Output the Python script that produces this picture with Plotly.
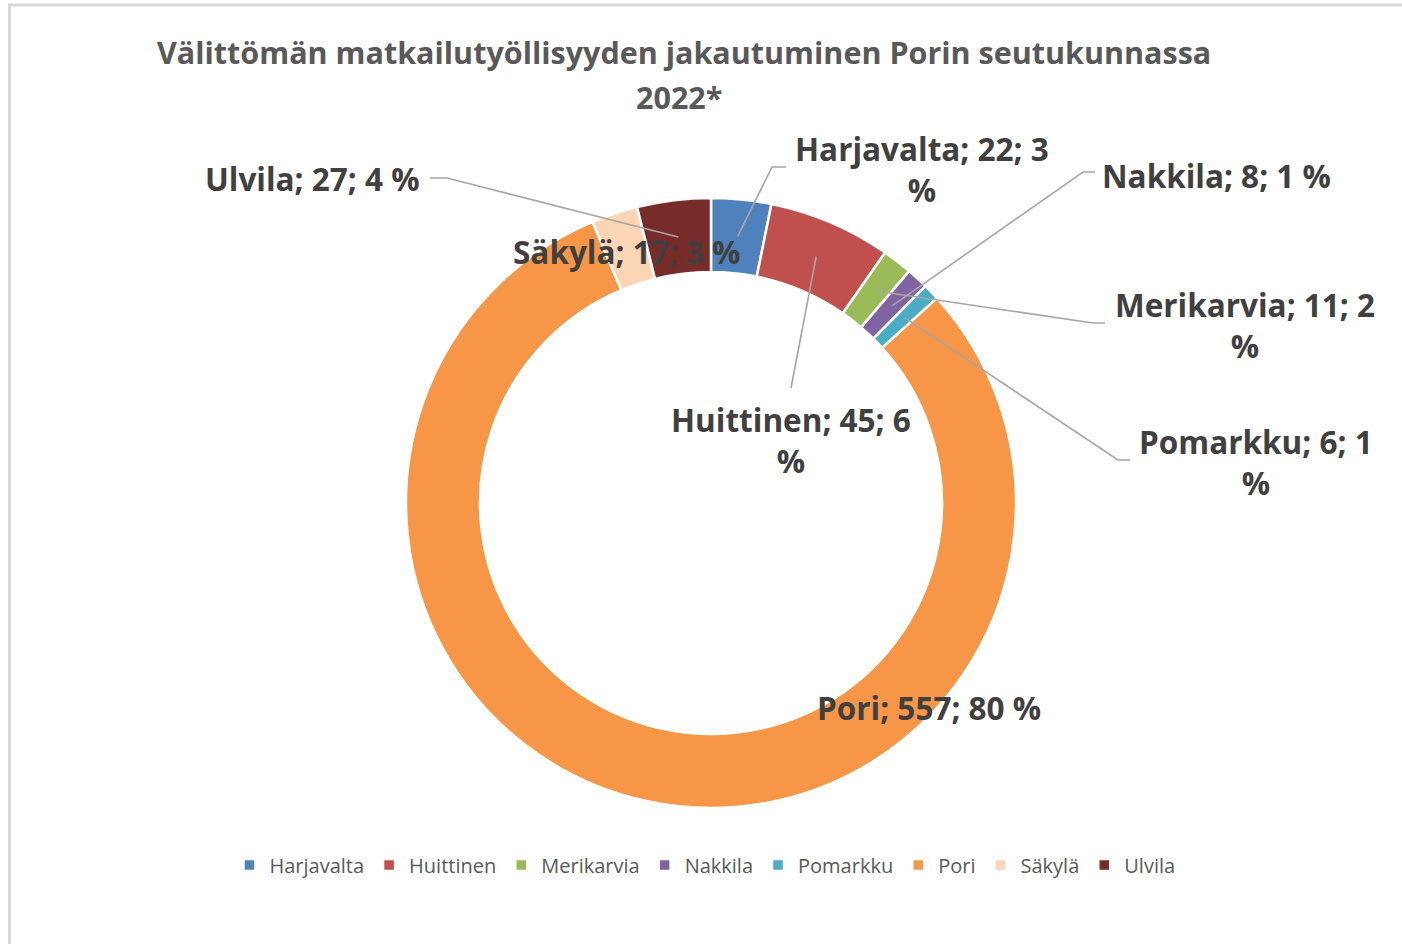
import math
import plotly.graph_objects as go

# data
municipalities = ["Harjavalta", "Huittinen", "Merikarvia", "Nakkila",
                  "Pomarkku", "Pori", "Säkylä", "Ulvila"]
jobs = [22, 45, 11, 8, 6, 557, 17, 27]
shares = [3, 6, 2, 1, 1, 80, 3, 4]
colors = ["#4F81BD", "#C0504D", "#9BBB59", "#8064A2",
          "#4BACC6", "#F79646", "#FCD5B5", "#772C2A"]

W, H = 1402, 944
cx, cy, r_out, r_in = 711, 503, 305, 231

# label layout (pixel positions), wrapped the way Excel wraps them
label_pos = {
    "Harjavalta": (922, 169, "Harjavalta; 22; 3<br>%"),
    "Huittinen": (791, 440, "Huittinen; 45; 6<br>%"),
    "Merikarvia": (1245, 325, "Merikarvia; 11; 2<br>%"),
    "Nakkila": (1216, 175, "Nakkila; 8; 1 %"),
    "Pomarkku": (1256, 462, "Pomarkku; 6; 1<br>%"),
    "Pori": (929, 707, "Pori; 557; 80 %"),
    "Säkylä": (626, 251, "Säkylä; 17; 3 %"),
    "Ulvila": (312, 178, "Ulvila; 27; 4 %"),
}
# leader line elbow and end points next to labels
leaders = {
    "Harjavalta": [(772, 167), (786, 167)],
    "Huittinen": [(791, 388)],
    "Merikarvia": [(1093, 323), (1105, 323)],
    "Nakkila": [(1083, 172), (1095, 172)],
    "Pomarkku": [(1118, 460), (1130, 460)],
    "Ulvila": [(447, 178), (430, 178)],
}

fig = go.Figure()

fig.add_trace(go.Pie(
    labels=municipalities, values=jobs, sort=False, direction="clockwise",
    rotation=0, hole=r_in / r_out, textinfo="none", hoverinfo="label+value+percent",
    marker=dict(colors=colors, line=dict(color="white", width=2.5)),
    domain=dict(x=[(cx - r_out) / W, (cx + r_out) / W],
                y=[1 - (cy + r_out) / H, 1 - (cy - r_out) / H]),
))

shapes = [dict(type="rect", xref="x", yref="y", x0=9.5, y0=5, x1=W + 20, y1=H + 20,
               line=dict(color="#D9D9D9", width=3), layer="below")]

total = sum(jobs)
cum = 0
r_mid = (r_out + r_in) / 2
for name, v in zip(municipalities, jobs):
    theta = math.radians((cum + v / 2) / total * 360)
    cum += v
    if name in leaders:
        pts = [(cx + r_mid * math.sin(theta), cy - r_mid * math.cos(theta))] + leaders[name]
        path = "M " + " L ".join(f"{px:.1f},{py:.1f}" for px, py in pts)
        shapes.append(dict(type="path", xref="x", yref="y", path=path, layer="above",
                           line=dict(color="#A6A6A6", width=1.6)))

for name in municipalities:
    lx, ly, txt = label_pos[name]
    fig.add_annotation(x=lx, y=ly, xref="x", yref="y", text=txt, showarrow=False,
                       font=dict(family="Open Sans", size=31.5, color="#404040", weight="bold"),
                       align="center")

# two title lines, Excel puts them a bit further apart than plotly's <br>
fig.add_annotation(x=683.5, y=52, xref="x", yref="y", showarrow=False,
                   text="Välittömän matkailutyöllisyyden jakautuminen Porin seutukunnassa",
                   font=dict(family="Open Sans", size=30.5, color="#595959", weight="bold"))
fig.add_annotation(x=679, y=97, xref="x", yref="y", showarrow=False, text="2022*",
                   font=dict(family="Open Sans", size=30.5, color="#595959", weight="bold"))

fig.update_layout(
    width=W, height=H, margin=dict(l=0, r=0, t=0, b=0),
    paper_bgcolor="white", plot_bgcolor="rgba(0,0,0,0)",
    xaxis=dict(range=[0, W], visible=False, fixedrange=True),
    yaxis=dict(range=[H, 0], visible=False, fixedrange=True),
    legend=dict(orientation="h", x=705 / W, xanchor="center", y=1 - 865 / H,
                yanchor="middle", font=dict(family="Open Sans", size=20, color="#595959"),
                itemwidth=30, traceorder="normal"),
    shapes=shapes,
)

fig.write_html("out.html", config={"displayModeBar": False},
               post_script="document.body.style.margin='0px';")
